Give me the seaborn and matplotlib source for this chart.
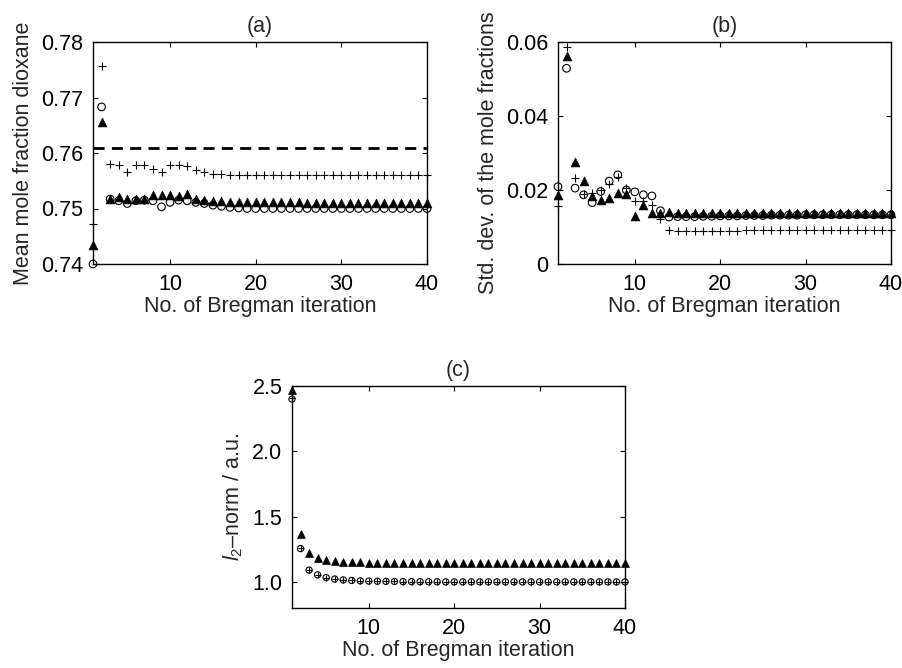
import numpy as np
import pandas as pd
import matplotlib
matplotlib.use("Agg")
import matplotlib.pyplot as plt
import seaborn as sns

# ---------------- data ----------------
iterations = list(range(1, 41))

# panel (a): mean mole fraction dioxane
a_plus = [0.7472, 0.7756, 0.7581, 0.7579, 0.7566, 0.7578, 0.7578, 0.7572, 0.7566, 0.7578,
          0.7578, 0.7577, 0.7569, 0.7566, 0.7563, 0.7562, 0.7561, 0.7561, 0.7561, 0.7560,
          0.7560, 0.7560, 0.7560, 0.7560, 0.7560, 0.7560, 0.7560, 0.7560, 0.7560, 0.7560,
          0.7560, 0.7560, 0.7560, 0.7560, 0.7560, 0.7560, 0.7560, 0.7560, 0.7560, 0.7560]
a_circle = [0.7400, 0.7683, 0.7517, 0.7514, 0.7509, 0.7514, 0.7515, 0.7514, 0.7503, 0.7511,
            0.7515, 0.7514, 0.7511, 0.7509, 0.7506, 0.7504, 0.7502, 0.7501, 0.7500, 0.7500,
            0.7500, 0.7500, 0.7500, 0.7500, 0.7500, 0.7500, 0.7500, 0.7500, 0.7500, 0.7500,
            0.7500, 0.7500, 0.7500, 0.7500, 0.7500, 0.7500, 0.7500, 0.7500, 0.7500, 0.7500]
a_triangle = [0.7434, 0.7655, 0.7518, 0.7521, 0.7517, 0.7518, 0.7518, 0.7524, 0.7524, 0.7524,
              0.7522, 0.7526, 0.7518, 0.7515, 0.7514, 0.7513, 0.7512, 0.7511, 0.7511, 0.7511,
              0.7511, 0.7511, 0.7511, 0.7511, 0.7511, 0.7510, 0.7510, 0.7510, 0.7510, 0.7510,
              0.7510, 0.7510, 0.7510, 0.7510, 0.7510, 0.7510, 0.7510, 0.7510, 0.7510, 0.7510]
a_reference = 0.7609

# panel (b): std. dev. of the mole fractions
b_plus = [0.0157, 0.0587, 0.0233, 0.0190, 0.0192, 0.0200, 0.0216, 0.0235, 0.0206, 0.0171,
          0.0170, 0.0160, 0.0122, 0.0093, 0.0089, 0.0089, 0.0089, 0.0090, 0.0090, 0.0090,
          0.0090, 0.0090, 0.0091, 0.0091, 0.0091, 0.0091, 0.0091, 0.0091, 0.0091, 0.0092,
          0.0092, 0.0092, 0.0092, 0.0092, 0.0092, 0.0092, 0.0092, 0.0092, 0.0092, 0.0092]
b_circle = [0.0209, 0.0529, 0.0205, 0.0187, 0.0166, 0.0196, 0.0224, 0.0241, 0.0200, 0.0195,
            0.0187, 0.0184, 0.0144, 0.0127, 0.0128, 0.0128, 0.0128, 0.0129, 0.0129, 0.0130,
            0.0130, 0.0130, 0.0131, 0.0131, 0.0131, 0.0132, 0.0132, 0.0132, 0.0132, 0.0133,
            0.0133, 0.0133, 0.0133, 0.0133, 0.0133, 0.0133, 0.0133, 0.0133, 0.0133, 0.0133]
b_triangle = [0.0187, 0.0563, 0.0276, 0.0223, 0.0185, 0.0174, 0.0178, 0.0191, 0.0189, 0.0129,
              0.0160, 0.0137, 0.0138, 0.0140, 0.0139, 0.0139, 0.0139, 0.0138, 0.0138, 0.0138,
              0.0138, 0.0138, 0.0138, 0.0138, 0.0137, 0.0137, 0.0137, 0.0137, 0.0137, 0.0137,
              0.0137, 0.0137, 0.0137, 0.0137, 0.0137, 0.0137, 0.0137, 0.0137, 0.0137, 0.0137]

# panel (c): l2-norm
c_triangle = [2.47, 1.365, 1.224, 1.186, 1.168, 1.161, 1.156, 1.152, 1.150, 1.148,
              1.147, 1.147, 1.146, 1.146, 1.146, 1.146, 1.146, 1.145, 1.145, 1.145,
              1.145, 1.145, 1.145, 1.145, 1.145, 1.145, 1.145, 1.145, 1.145, 1.145,
              1.145, 1.145, 1.145, 1.145, 1.145, 1.145, 1.145, 1.145, 1.145, 1.145]
c_circle = [2.40, 1.255, 1.090, 1.054, 1.033, 1.022, 1.015, 1.011, 1.008, 1.006,
            1.005, 1.004, 1.003, 1.002, 1.002, 1.001, 1.001, 1.001, 1.000, 1.000,
            1.000, 1.000, 1.000, 1.000, 1.000, 1.000, 1.000, 1.000, 1.000, 1.000,
            1.000, 1.000, 1.000, 1.000, 1.000, 1.000, 1.000, 1.000, 1.000, 1.000]
c_plus = [2.41, 1.262, 1.090, 1.054, 1.033, 1.022, 1.015, 1.011, 1.008, 1.006,
          1.005, 1.004, 1.003, 1.002, 1.002, 1.001, 1.001, 1.001, 1.000, 1.000,
          1.000, 1.000, 1.000, 1.000, 1.000, 1.000, 1.000, 1.000, 1.000, 1.000,
          1.000, 1.000, 1.000, 1.000, 1.000, 1.000, 1.000, 1.000, 1.000, 1.000]

xticks = [10, 20, 30, 40]
a_yticks = [0.74, 0.75, 0.76, 0.77, 0.78]
a_ylabels = ["0.74", "0.75", "0.76", "0.77", "0.78"]
b_yticks = [0.0, 0.02, 0.04, 0.06]
b_ylabels = ["0", "0.02", "0.04", "0.06"]
c_yticks = [1.0, 1.5, 2.0, 2.5]
c_ylabels = ["1.0", "1.5", "2.0", "2.5"]

# ---------------- style ----------------
sns.set_style("ticks")
plt.rcParams["font.family"] = ["Liberation Sans", "DejaVu Sans"]
plt.rcParams["mathtext.fontset"] = "custom"
plt.rcParams["mathtext.rm"] = "Liberation Sans"
plt.rcParams["mathtext.it"] = "Liberation Sans:italic"
FS = 15.5

fig = plt.figure(figsize=(9.03, 6.68), dpi=100)
W, H = 903.0, 668.0

def make_ax(l, t, r, b):
    return fig.add_axes([l / W, 1 - b / H, (r - l) / W, (b - t) / H])

ax_a = make_ax(93, 42, 427, 264)
ax_b = make_ax(558, 42, 891, 264)
ax_c = make_ax(292, 386, 625, 608)


def draw(ax, plus, circle, tri, s_circ, s_tri, s_plus):
    df = pd.DataFrame({"it": iterations, "plus": plus, "circle": circle, "tri": tri})
    sns.scatterplot(data=df, x="it", y="tri", ax=ax, marker="^", s=s_tri,
                    color="black", edgecolor="black", linewidth=0.5, clip_on=False, zorder=3)
    sns.scatterplot(data=df, x="it", y="circle", ax=ax, marker="o", s=s_circ,
                    facecolor="none", edgecolor="black", linewidth=0.8, clip_on=False, zorder=4)
    sns.scatterplot(data=df, x="it", y="plus", ax=ax, marker="+", s=s_plus,
                    color="black", linewidth=0.8, clip_on=False, zorder=5)


def style(ax, title, ylabel, yticks, ylabels, ylim):
    ax.set_xlim(1, 40)
    ax.set_ylim(*ylim)
    ax.set_xticks(xticks)
    ax.set_xticklabels([str(t) for t in xticks], fontsize=FS)
    ax.set_yticks(yticks)
    ax.set_yticklabels(ylabels, fontsize=FS)
    ax.tick_params(direction="in", top=True, right=True, length=3.5, width=0.8,
                   pad=7, colors="black")
    for sp in ax.spines.values():
        sp.set_visible(True)
        sp.set_linewidth(1.0)
        sp.set_color("black")
    ax.set_xlabel("No. of Bregman iteration", fontsize=FS, labelpad=1)
    ax.set_ylabel(ylabel, fontsize=FS, labelpad=5)
    ax.set_title(title, fontsize=FS, pad=7)


draw(ax_a, a_plus, a_circle, a_triangle, 30, 40, 28)
ax_a.axhline(a_reference, color="black", lw=2.0, ls=(0, (4, 2.6)), zorder=2)
style(ax_a, "(a)", "Mean mole fraction dioxane", a_yticks, a_ylabels, (0.74, 0.78))

draw(ax_b, b_plus, b_circle, b_triangle, 30, 40, 28)
style(ax_b, "(b)", "Std. dev. of the mole fractions", b_yticks, b_ylabels, (0.0, 0.06))

draw(ax_c, c_plus, c_circle, c_triangle, 20, 32, 18)
style(ax_c, "(c)", r"$l_2$" + "\u2013norm / a.u.", c_yticks, c_ylabels, (0.8, 2.5))

fig.savefig("out.png", dpi=100)
